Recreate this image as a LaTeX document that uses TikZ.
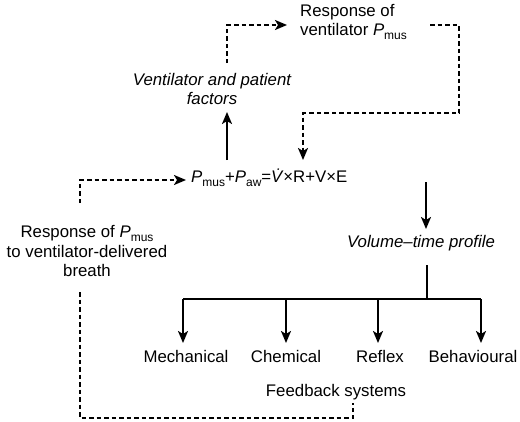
\documentclass[tikz,border=0pt]{standalone}
\usepackage{fontspec}
\setmainfont{Liberation Sans}
\usetikzlibrary{arrows.meta}
\newcommand\sbs[1]{\raisebox{-0.45ex}{\fontsize{12}{12}\selectfont #1}}
\begin{document}
\begin{tikzpicture}[x=1pt,y=-1pt,
  txt/.style={font=\fontsize{16.8}{19.5}\selectfont, inner sep=0pt, align=center},
  itx/.style={txt, font=\fontsize{16.8}{19.5}\selectfont\itshape},
  dsh/.style={line width=2pt, dash pattern=on 4.5pt off 3pt},
  sol/.style={line width=2pt},
  tip/.style={-{Stealth[length=12pt,width=10pt,inset=3pt]}}
]
\useasboundingbox (0,0) rectangle (520,421);
% nodes
\node[txt, align=left, anchor=west] (resp) at (300,22) {Response of\\ventilator \textit{P}\sbs{mus}};
\node[itx] (vpf) at (212,89) {Ventilator and patient\\factors};
\node[txt, anchor=west] (eq) at (191,178) {\textit{P}\sbs{mus}+\textit{P}\sbs{aw}=\textit{\.V}×R+V×E};
\node[itx] (vtp) at (421,243) {Volume–time profile};
\node[txt] (rp) at (87,251) {Response of \textit{P}\sbs{mus}\\to ventilator-delivered\\breath};
\node[txt] (mech) at (186,356) {Mechanical};
\node[txt] (chem) at (286,356) {Chemical};
\node[txt] (refl) at (380,356) {Reflex};
\node[txt] (beh) at (473,356) {Behavioural};
\node[txt] (fb) at (336,392) {Feedback systems};
% coordinates
\coordinate (a1) at (227,63);
\coordinate (a2) at (287,25);
\coordinate (b1) at (430,25);
\coordinate (b2) at (459,113);
\coordinate (b3) at (303,160);
\coordinate (c1) at (80,203);
\coordinate (c2) at (186,180);
\coordinate (d1) at (227,160);
\coordinate (d2) at (227,112);
\coordinate (e1) at (426,182);
\coordinate (e2) at (426,229);
\coordinate (f1) at (427,265);
\coordinate (f2) at (427,299);
\coordinate (g1) at (80,292);
\coordinate (g2) at (353,403);
\coordinate (h1) at (183,299);
\coordinate (h2) at (286,299);
\coordinate (h3) at (378,299);
\coordinate (h4) at (481,299);
% connectors
\draw[dsh, tip] (a1) |- (a2);
\draw[dsh, tip] (b1) -| (b2) -| (b3);
\draw[dsh, tip] (c1) |- (c2);
\draw[sol, tip] (d1) -- (d2);
\draw[sol, tip] (e1) -- (e2);
\draw[sol] (f1) -- (f2);
\draw[sol] (h1) -- (h4);
\draw[sol, tip] (h1) -- ++(0,44);
\draw[sol, tip] (h2) -- ++(0,44);
\draw[sol, tip] (h3) -- ++(0,44);
\draw[sol, tip] (h4) -- ++(0,44);
\draw[dsh] (g1) |- (353,418) -- (g2);
\end{tikzpicture}
\end{document}
